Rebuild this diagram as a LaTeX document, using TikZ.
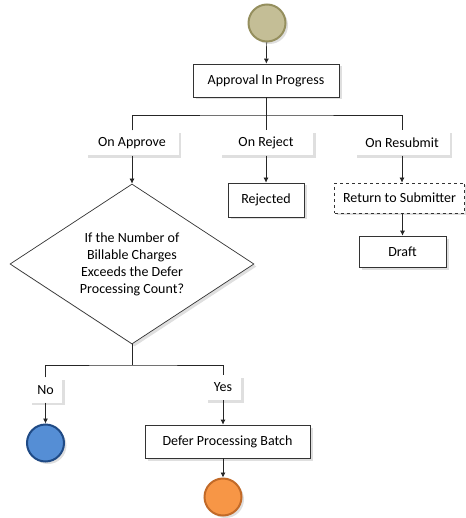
\documentclass[tikz,border=0pt]{standalone}
\usepackage{fontspec}
\setmainfont{Carlito}
\usetikzlibrary{shapes.geometric,shadows,arrows.meta}
\definecolor{khakiF}{HTML}{C4BE96}
\definecolor{khakiD}{HTML}{958F5E}
\definecolor{blueF}{HTML}{558ED5}
\definecolor{blueD}{HTML}{1F4A85}
\definecolor{orangeF}{HTML}{F79646}
\definecolor{orangeD}{HTML}{C26A28}
\tikzset{
  x=1pt,y=-1pt,
  every node/.style={font=\fontsize{14}{17}\selectfont},
  shad/.style={drop shadow={opacity=0.25,shadow xshift=2.5pt,shadow yshift=-2.5pt}},
  statebox/.style={draw=black!80,fill=white,line width=0.7pt,minimum height=33pt,inner sep=2pt,shad},
  lbl/.style={fill=white,minimum height=25pt,inner sep=2pt,shad},
  evt/.style={circle,line width=2pt,minimum size=37pt,inner sep=0pt,shad},
  conn/.style={line width=0.7pt,black!85},
  arr/.style={conn,-{Latex[length=5pt,width=5pt]}},
}
\begin{document}
\begin{tikzpicture}
\useasboundingbox (0,0) rectangle (465,518);
% start
\node[evt,fill=khakiF,draw=khakiD] (start) at (267,23) {};
\node[statebox,minimum width=146pt] (aip) at (266,80.5) {Approval In Progress};
\coordinate (j1) at (266,115);
\node[lbl,minimum width=93pt] (onapp) at (132,143) {On Approve};
\node[lbl,minimum width=94pt] (onrej) at (266,143) {On Reject};
\node[lbl,minimum width=95pt] (onres) at (402,143) {On Resubmit};
\node[statebox,minimum width=76pt,minimum height=34pt] (rej) at (266,200) {Rejected};
\node[statebox,dashed,minimum width=130pt,minimum height=30pt] (ret) at (399.5,198) {Return to Submitter};
\node[statebox,minimum width=87pt,minimum height=31pt] (draft) at (402.5,251.5) {Draft};
\node[diamond,draw=black!80,fill=white,line width=0.7pt,shad,aspect=1.525,minimum width=244pt,minimum height=160pt,inner sep=0pt,align=center] (dec) at (132,264)
 {If the Number of\\Billable Charges\\Exceeds the Defer\\Processing Count?};
\coordinate (j2) at (132,365);
\node[lbl,minimum width=33pt] (no) at (45.5,390) {No};
\node[lbl,minimum width=36pt] (yes) at (223,387.5) {Yes};
\node[evt,fill=blueF,draw=blueD] (endb) at (45.5,443) {};
\node[statebox,minimum width=165pt] (dpb) at (227.5,441.5) {Defer Processing Batch};
\node[evt,fill=orangeF,draw=orangeD] (endo) at (223,497) {};
% connectors
\draw[arr] (start) -- (aip);
\draw[conn] (aip.south) -- (j1);
\draw[conn] (onapp.north) |- (j1) -| (onres.north);
\draw[conn] (j1) -- (onrej.north);
\draw[arr] (onapp) -- (dec.north);
\draw[arr] (onrej) -- (rej);
\draw[arr] (onres.south) -- (onres.south |- ret.north);
\draw[arr] (draft.north |- ret.south) -- (draft.north);
\draw[conn] (dec.south) -- (j2);
\draw[conn] (no.north) |- (j2) -| (yes.north);
\draw[arr] (no) -- (endb);
\draw[arr] (yes.south) -- (yes.south |- dpb.north);
\draw[arr] (endo.north |- dpb.south) -- (endo);
\end{tikzpicture}
\end{document}
